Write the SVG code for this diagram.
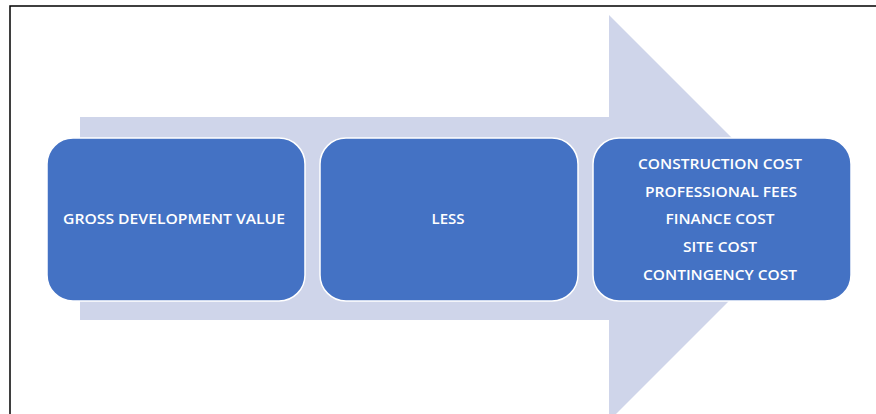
<svg xmlns="http://www.w3.org/2000/svg" width="876" height="414" viewBox="0 0 876 414">
<style>
.box{fill:#4472C4;stroke:#FFFFFF;stroke-width:1.5}
.t{font-family:"Open Sans","Liberation Sans",sans-serif;font-size:15px;font-weight:600;fill:#FFFFFF;text-anchor:middle}
</style>
<rect x="0" y="0" width="876" height="414" fill="#FFFFFF"/>
<path d="M10 414 V6 H876" fill="none" stroke="#000000" stroke-width="1.5"/>
<g id="arrow">
<path d="M80 117 H609 V15 L812 218 L609 421 V320 H80 Z" fill="#CFD5EA"/>
</g>
<g id="node1">
<rect class="box" x="47" y="138" width="258" height="163" rx="26"/>
<text class="t" x="174" y="223.5" textLength="222" lengthAdjust="spacingAndGlyphs">GROSS DEVELOPMENT VALUE</text>
</g>
<g id="node2">
<rect class="box" x="320" y="138" width="258" height="163" rx="26"/>
<text class="t" x="448" y="223.5" textLength="33" lengthAdjust="spacingAndGlyphs">LESS</text>
</g>
<g id="node3">
<rect class="box" x="593" y="138" width="258" height="163" rx="26"/>
<text class="t" x="720" y="168.5" textLength="164" lengthAdjust="spacingAndGlyphs">CONSTRUCTION COST</text>
<text class="t" x="721" y="196.5" textLength="152" lengthAdjust="spacingAndGlyphs">PROFESSIONAL FEES</text>
<text class="t" x="720" y="223.5" textLength="109" lengthAdjust="spacingAndGlyphs">FINANCE COST</text>
<text class="t" x="720" y="251.5" textLength="74" lengthAdjust="spacingAndGlyphs">SITE COST</text>
<text class="t" x="720" y="279.5" textLength="154" lengthAdjust="spacingAndGlyphs">CONTINGENCY COST</text>
</g>
<g id="connectors"></g>
</svg>
